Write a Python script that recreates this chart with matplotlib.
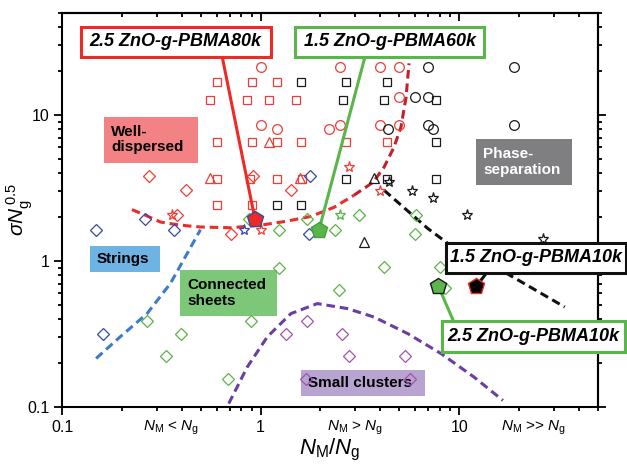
import matplotlib
matplotlib.use('Agg')
from matplotlib import pyplot as plt
from matplotlib.patches import Rectangle
from matplotlib.transforms import blended_transform_factory
from matplotlib.ticker import FixedLocator, LogLocator, NullFormatter, FuncFormatter

plt.rcParams['font.family'] = 'Liberation Sans'
plt.rcParams['mathtext.fontset'] = 'custom'
plt.rcParams['mathtext.rm'] = 'Liberation Sans'
plt.rcParams['mathtext.it'] = 'Liberation Sans:italic'
plt.rcParams['mathtext.bf'] = 'Liberation Sans:bold'

# ---- data (x = N_M/N_g, y = sigma*N_g^0.5) ----
red_sq_x = [0.60, 0.90, 1.205, 0.553, 0.85, 1.10, 1.50, 0.60, 0.90, 1.205, 1.606, 2.69, 4.31, 0.60, 0.88, 1.205, 1.62, 0.60, 0.90]
red_sq_y = [16.8, 16.8, 16.8, 12.7, 12.7, 12.7, 12.7, 6.53, 6.53, 6.53, 6.53, 6.53, 6.53, 3.63, 3.63, 3.63, 3.63, 2.41, 2.41]
red_ci_x = [1.0, 2.50, 4.0, 4.99, 4.99, 1.0, 1.205, 2.198, 2.50, 4.0, 4.99]
red_ci_y = [21.3, 21.3, 21.3, 21.3, 13.2, 8.5, 7.98, 7.98, 8.5, 8.5, 8.5]
red_tri_x = [1.10, 0.559, 1.58]
red_tri_y = [6.53, 3.70, 3.70]
red_dia_x = [0.273, 0.421, 0.919, 1.418, 0.38, 0.711]
red_dia_y = [3.82, 3.08, 3.82, 3.08, 2.06, 1.52]
red_star_x = [2.80, 4.0, 0.358, 1.01]
red_star_y = [4.41, 3.02, 2.06, 1.64]

blk_sq_x = [1.606, 2.69, 4.31, 2.61, 4.17, 7.64, 7.64, 2.69, 4.31, 7.64, 1.205, 1.606]
blk_sq_y = [16.8, 16.8, 16.8, 12.7, 12.7, 12.7, 6.53, 3.63, 3.63, 3.63, 2.41, 2.41]
blk_ci_x = [7.0, 18.9, 5.97, 7.0, 4.36, 7.0, 7.4, 18.9]
blk_ci_y = [21.3, 21.3, 13.2, 13.2, 7.98, 8.5, 7.98, 8.5]
blk_tri_x = [3.73, 3.30]
blk_tri_y = [3.70, 1.36]
blk_star_x = [4.42, 5.79, 7.4, 10.97, 26.3]
blk_star_y = [3.48, 3.02, 2.70, 2.06, 1.42]

blu_dia_x = [1.774, 0.263, 0.149, 0.368, 1.753, 0.161]
blu_dia_y = [3.82, 1.95, 1.64, 1.64, 1.52, 0.318]
blu_star_x = [0.823]
blu_star_y = [1.64]

grn_dia_x = [0.87, 1.237, 1.72, 2.36, 3.14, 6.06, 5.97, 1.237, 2.47, 4.20, 8.02, 8.53, 0.268, 0.398, 0.335, 0.898, 0.684]
grn_dia_y = [1.95, 1.64, 1.95, 1.64, 2.06, 2.06, 1.52, 0.90, 0.637, 0.91, 0.91, 0.65, 0.388, 0.318, 0.223, 0.388, 0.156]
grn_star_x = [2.52]
grn_star_y = [2.06]

pur_dia_x = [1.72, 1.348, 2.565, 2.80, 1.687, 5.34, 5.67]
pur_dia_y = [0.388, 0.318, 0.318, 0.223, 0.156, 0.223, 0.156]

# highlighted samples: 80k, 60k, 1.5 10k, 2.5 10k
pent_x = [0.936, 1.97, 12.2, 7.86]
pent_y = [1.95, 1.64, 0.671, 0.671]

# guide lines (boundaries)
red_lo_x = [0.225, 0.263, 0.313, 0.395, 0.498, 0.705, 1.0, 1.34, 1.79, 2.34, 2.95]
red_lo_y = [2.25, 2.06, 1.85, 1.76, 1.71, 1.69, 1.76, 1.87, 2.02, 2.33, 2.82]
red_hi_x = [2.95, 3.68, 4.18, 4.69, 5.09, 5.40, 5.59]
red_hi_y = [2.82, 3.46, 4.38, 6.01, 8.24, 13.2, 22.6]
blue_x = [0.1485, 0.196, 0.268, 0.351, 0.426, 0.498]
blue_y = [0.215, 0.302, 0.436, 0.70, 1.12, 1.64]
pur_x = [0.691, 0.857, 1.08, 1.42, 1.93, 2.74, 3.73, 5.51, 8.11, 11.9, 16.6]
pur_y = [0.1055, 0.188, 0.302, 0.436, 0.511, 0.472, 0.413, 0.318, 0.232, 0.160, 0.111]
blk_x = [4.19, 6.95, 8.77, 16.3, 34.0]
blk_y = [3.05, 1.67, 1.32, 0.864, 0.484]

W, H = 627, 466
RED = '#ee3d36'
BLK = '#1a1a1a'
BLU = '#3548a8'
GRN = '#5bb34a'
PUR = '#a352ae'

fig = plt.figure(figsize=(W / 100, H / 100), dpi=100)
ax = fig.add_axes([62 / W, 1 - 407 / H, 536 / W, 394 / H])
ax.set_xscale('log')
ax.set_yscale('log')
ax.set_xlim(0.1, 50)
ax.set_ylim(0.1, 50)


def fx(px):
    return px / W


def fy(py):
    return 1 - py / H


def region(x0, y0, x1, y1, color):
    ax.add_artist(Rectangle((fx(x0), fy(y1)), (x1 - x0) / W, (y1 - y0) / H, transform=fig.transFigure,
                            facecolor=color, edgecolor='none', zorder=1, clip_on=False))


# shaded region labels
region(104.3, 116.7, 198.3, 162.7, '#f28283')
region(476, 139.3, 571.7, 185, '#7f7f82')
region(90, 246, 160, 272.3, '#6db3e3')
region(180, 270, 277.3, 315.7, '#7dc878')
region(300.7, 370, 425, 396, '#b7a4d0')
kw = dict(transform=fig.transFigure, fontsize=11, fontweight='bold', ha='left', va='center', zorder=2,
          linespacing=1.1)
ax.text(fx(111), fy(139.5), 'Well-\ndispersed', color='k', **kw)
ax.text(fx(483), fy(162), 'Phase-\nseparation', color='white', **kw)
ax.text(fx(97), fy(259), 'Strings', color='k', **kw)
ax.text(fx(187), fy(293), 'Connected\nsheets', color='k', **kw)
ax.text(fx(308), fy(383), 'Small clusters', color='k', **kw)

# boundaries
dash = dict(lw=2.2, linestyle=(0, (2.8, 1.6)), zorder=3)
ax.plot(red_lo_x, red_lo_y, color='#ea2c2a', **dash)
ax.plot(red_hi_x, red_hi_y, color='#c4202c', **dash)
ax.plot(blue_x, blue_y, color='#3d7cc9', **dash)
ax.plot(pur_x, pur_y, color='#6a3ea3', **dash)
ax.plot(blk_x, blk_y, color='#111111', **dash)

# samples
mk = dict(linestyle='none', markerfacecolor='none', markeredgewidth=0.9, zorder=4)
ax.plot(red_sq_x, red_sq_y, 's', ms=6, markeredgecolor=RED, **mk)
ax.plot(red_ci_x, red_ci_y, 'o', ms=7, markeredgecolor=RED, **mk)
ax.plot(red_tri_x, red_tri_y, '^', ms=7, markeredgecolor=RED, **mk)
ax.plot(red_dia_x, red_dia_y, 'D', ms=6, markeredgecolor=RED, **mk)
ax.plot(red_star_x, red_star_y, '*', ms=8, markeredgecolor=RED, **mk)
ax.plot(blk_sq_x, blk_sq_y, 's', ms=6, markeredgecolor=BLK, **mk)
ax.plot(blk_ci_x, blk_ci_y, 'o', ms=7, markeredgecolor=BLK, **mk)
ax.plot(blk_tri_x, blk_tri_y, '^', ms=7, markeredgecolor=BLK, **mk)
ax.plot(blk_star_x, blk_star_y, '*', ms=8, markeredgecolor=BLK, **mk)
ax.plot(blu_dia_x, blu_dia_y, 'D', ms=6, markeredgecolor=BLU, **mk)
ax.plot(blu_star_x, blu_star_y, '*', ms=8, markeredgecolor=BLU, **mk)
ax.plot(grn_dia_x, grn_dia_y, 'D', ms=6, markeredgecolor=GRN, **mk)
ax.plot(grn_star_x, grn_star_y, '*', ms=8, markeredgecolor=GRN, **mk)
ax.plot(pur_dia_x, pur_dia_y, 'D', ms=6, markeredgecolor=PUR, **mk)

# highlighted samples with call-out boxes
pent_face = ['#ee2a26', '#5ab54a', '#000000', '#5ab54a']
pent_edge = [BLU, '#4a9e3c', '#ee2a26', '#1a1a1a']
box_col = ['#ee2a26', '#5ab54a', '#111111', '#5ab54a']
box_px = [(80.7, 26.7, 270.7, 57.3), (295, 26.7, 484, 56.7), (446, 243.3, 626, 272.7), (441.7, 320.7, 625, 351.7)]
box_txt = ['2.5 ZnO-g-PBMA80k', '1.5 ZnO-g-PBMA60k', '1.5 ZnO-g-PBMA10k', '2.5 ZnO-g-PBMA10k']
line_end = [(222.3, 57.3), (365, 56.7), (486.7, 272.7), (453.3, 320.7)]
for i in range(4):
    ex, ey = line_end[i]
    ax.annotate('', xy=(pent_x[i], pent_y[i]), xycoords='data', xytext=(ex, H - ey),
                textcoords='figure pixels',
                arrowprops=dict(arrowstyle='-', color=box_col[i], lw=2.2, shrinkA=0, shrinkB=0),
                zorder=5, annotation_clip=False)
    ax.plot(pent_x[i], pent_y[i], 'p', ms=12, markerfacecolor=pent_face[i], markeredgecolor=pent_edge[i],
            markeredgewidth=1.0, zorder=6)
    x0, y0, x1, y1 = box_px[i]
    ax.add_artist(Rectangle((fx(x0), fy(y1)), (x1 - x0) / W, (y1 - y0) / H, transform=fig.transFigure,
                            facecolor='white', edgecolor=box_col[i], lw=2.2, zorder=7, clip_on=False))
    ax.text(fx((x0 + x1) / 2), fy((y0 + y1) / 2), box_txt[i], transform=fig.transFigure, fontsize=13,
            fontweight='bold', fontstyle='italic', ha='center', va='center', zorder=8)

# regime labels under the x axis
regime_tr = blended_transform_factory(ax.transData, fig.transFigure)
for xv, s in [(0.355, r'$N_{\mathrm{M}}$ < $N_{\mathrm{g}}$'), (2.98, r'$N_{\mathrm{M}}$ > $N_{\mathrm{g}}$'),
              (23.6, r'$N_{\mathrm{M}}$ >> $N_{\mathrm{g}}$')]:
    ax.text(xv, fy(428), s, transform=regime_tr, fontsize=11, ha='center', va='center')

ax.set_xlabel(r'$N_{\mathrm{M}}/N_{\mathrm{g}}$', fontsize=16, labelpad=2)
ax.set_ylabel(r'$\sigma N_{\mathrm{g}}^{\,0.5}$', fontsize=15)
ax.yaxis.set_label_coords(-0.05, 0.5)

fmt = FuncFormatter(lambda v, p: '%g' % v)
for axis in (ax.xaxis, ax.yaxis):
    axis.set_major_locator(FixedLocator([0.1, 1, 10]))
    axis.set_minor_locator(LogLocator(base=10, subs=range(2, 10)))
    axis.set_major_formatter(fmt)
    axis.set_minor_formatter(NullFormatter())
ax.tick_params(which='both', direction='out', width=1.3, labelsize=11.5, pad=3)
ax.tick_params(which='major', length=6)
ax.tick_params(which='minor', length=3)

ident = (lambda v: v, lambda v: v)
top = ax.secondary_xaxis('top', functions=ident)
right = ax.secondary_yaxis('right', functions=ident)
for sec, axis in ((top, top.xaxis), (right, right.yaxis)):
    axis.set_major_locator(FixedLocator([0.1, 1, 10]))
    axis.set_minor_locator(LogLocator(base=10, subs=range(2, 10)))
    axis.set_major_formatter(NullFormatter())
    axis.set_minor_formatter(NullFormatter())
    for sp in sec.spines.values():
        sp.set_linewidth(1.5)
top.tick_params(which='both', direction='in', width=1.3)
top.tick_params(which='major', length=6)
top.tick_params(which='minor', length=3)
right.tick_params(which='both', direction='out', width=1.3)
right.tick_params(which='major', length=6)
right.tick_params(which='minor', length=3)

for sp in ax.spines.values():
    sp.set_linewidth(1.5)

fig.savefig('out.png', dpi=100)
